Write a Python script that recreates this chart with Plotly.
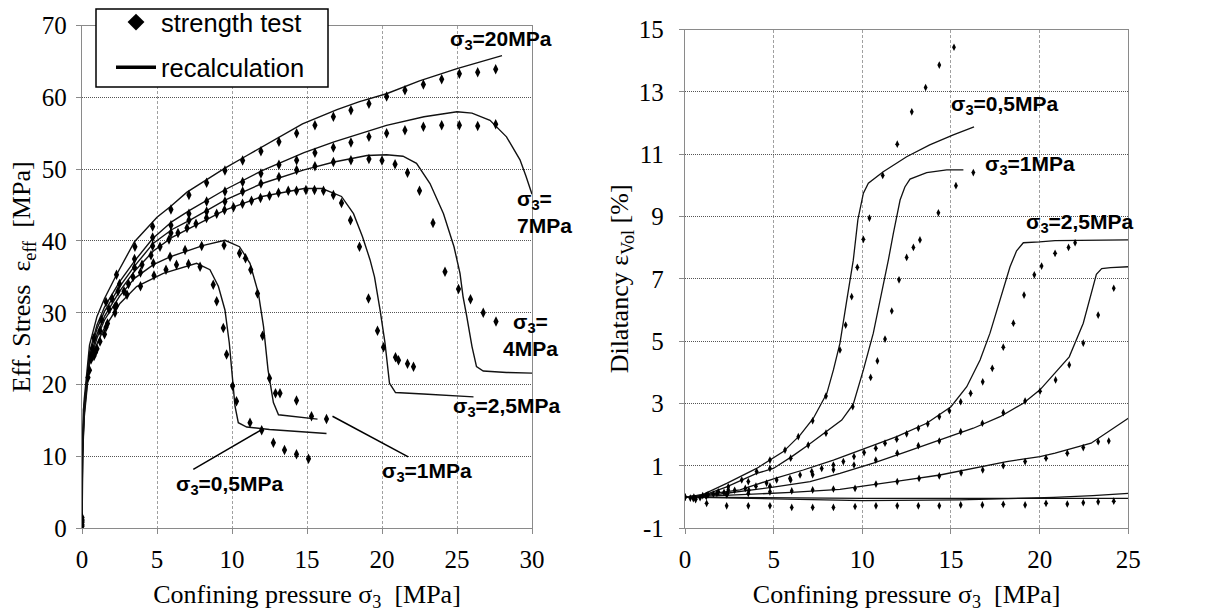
import plotly.graph_objects as go

# ================= LEFT PANEL : effective stress =================
# strength test (markers)
s20_x = [0, 0.8, 1.6, 2.3, 3.53, 4.71, 5.93, 7.13, 8.31, 9.53, 10.71, 11.93, 13.13, 14.31, 15.53, 16.76, 17.93, 19.13, 20.31, 21.53, 22.76, 23.98, 25.16, 26.38, 27.58]
s20_y = [0.3, 26.5, 31.5, 35.3, 39.2, 42.0, 44.4, 46.4, 48.1, 49.8, 51.2, 52.5, 53.8, 55.0, 56.1, 57.3, 58.2, 59.1, 60.1, 61.0, 61.8, 62.5, 63.3, 63.5, 63.9]
s7_x = [0, 0.7, 1.3, 2.0, 2.5, 3.5, 4.71, 5.93, 7.13, 8.31, 9.53, 10.71, 11.93, 13.13, 14.31, 15.53, 16.76, 17.93, 19.13, 20.31, 21.53, 22.76, 23.98, 25.16, 26.38, 27.58]
s7_y = [1.2, 25, 29, 32, 34, 37.5, 40.5, 42.2, 43.8, 45.5, 46.9, 48.2, 49.4, 50.6, 51.25, 52.3, 53.0, 53.7, 54.5, 55.0, 55.4, 55.9, 56.1, 56.1, 56.0, 56.25]
s4_x = [0, 0.6, 1.2, 1.8, 2.4, 3.5, 4.71, 5.93, 7.13, 8.31, 9.53, 10.71, 11.93, 13.13, 14.31, 15.53, 16.76, 17.93, 19.13, 20.0, 20.87, 21.7, 22.5, 23.4, 24.2, 25.1, 25.9, 26.75, 27.6]
s4_y = [1.5, 24, 27.5, 30.5, 33, 36.3, 39.3, 41.1, 42.9, 44.1, 45.5, 46.9, 48.0, 48.9, 49.9, 50.4, 51.0, 51.25, 51.4, 51.2, 50.7, 49.5, 47.0, 42.5, 35.7, 33.3, 31.9, 30.0, 28.8]
s25_x = [0, 0.4, 0.8, 1.2, 1.7, 2.2, 2.8, 3.4, 4.0, 4.6, 5.2, 5.8, 6.4, 7.0, 7.6, 8.3, 8.98, 9.5, 10.1, 10.7, 11.3, 11.9, 12.5, 13.1, 13.75, 14.3, 14.93, 15.5, 16.1, 16.76, 17.3, 17.9, 18.5, 19.1, 19.7, 20.1, 20.9, 21.1, 21.7, 22.1]
s25_y = [0.8, 21, 24, 26, 28.5, 30.8, 33, 35, 36.7, 38, 39.2, 40.2, 41.1, 41.8, 42.4, 43.2, 43.8, 44.3, 44.7, 45.2, 45.6, 46.0, 46.3, 46.7, 47.0, 47.0, 47.1, 47.1, 47.0, 46.4, 45.3, 42.9, 39.2, 32.0, 27.5, 25.2, 23.8, 23.4, 22.9, 22.5]
s1_x = [0, 0.6, 1.0, 1.6, 2.3, 3.1, 3.9, 4.76, 5.87, 6.87, 7.98, 9.47, 10.5, 10.9, 11.25, 11.7, 12.04, 12.5, 12.9, 13.2, 14.3, 15.3, 16.3]
s1_y = [1.0, 23.5, 25, 28, 31, 34, 35.6, 36.9, 37.8, 38.75, 39.3, 39.4, 38.3, 37.6, 36.0, 32.7, 26.8, 20.9, 18.8, 18.8, 17.8, 15.6, 15.2]
s05_x = [0, 0.5, 0.9, 1.5, 2.2, 3.0, 3.9, 4.8, 5.6, 6.3, 7.1, 7.87, 8.75, 8.98, 9.42, 9.64, 10.04, 10.3, 11.2, 11.98, 12.76, 13.5, 14.3, 15.1]
s05_y = [0.5, 22, 24.5, 27, 30, 32.5, 33.7, 35.2, 36.0, 36.7, 36.8, 36.4, 33.9, 31.6, 27.9, 24.2, 19.8, 17.7, 14.7, 13.65, 11.9, 10.9, 10.3, 9.7]

# recalculation (lines)
c20_x = [0, 0.03, 0.15, 0.5, 1.0, 1.5, 2.3, 3.5, 5.0, 5.9, 7.0, 8.3, 9.5, 11.0, 12.5, 14.7, 17.0, 18.5, 20.3, 22.5, 25.0, 28.0]
c20_y = [0, 12, 18, 25.5, 29.5, 32, 35.3, 39.9, 43.3, 44.8, 46.8, 48.5, 50.1, 51.9, 53.7, 56.3, 58.3, 59.4, 60.5, 62.3, 64.0, 65.8]
c7_x = [0, 0.03, 0.15, 0.5, 1.0, 1.5, 2.5, 3.5, 4.7, 6.0, 7.2, 9.5, 12.0, 14.8, 16.8, 20.3, 22.8, 25.0, 26.0, 27.2, 28.3, 29.2, 29.6, 30.0]
c7_y = [0, 11, 17, 24.5, 28.3, 30.8, 34.3, 37.2, 40.3, 42.7, 44.3, 47.1, 49.8, 52.3, 53.8, 56.1, 57.3, 58.0, 57.8, 56.8, 54.5, 51.3, 49.0, 46.5]
c4_x = [0, 0.03, 0.15, 0.5, 1.0, 1.5, 2.5, 3.5, 4.76, 6.0, 7.2, 9.53, 12.0, 14.8, 16.8, 19.0, 20.3, 21.4, 22.3, 23.2, 24.1, 24.8, 25.2, 25.4, 25.65, 26.0, 26.3, 26.75, 28.3, 30.0]
c4_y = [0, 10.5, 16.5, 24, 27.8, 30.2, 33.6, 36.5, 39.7, 41.6, 42.9, 45.7, 48.0, 49.9, 51.0, 51.9, 52.0, 51.8, 50.8, 48.0, 43.8, 39.2, 35.5, 32.3, 29.5, 25.3, 22.5, 21.9, 21.7, 21.6]
c25_x = [0, 0.03, 0.15, 0.5, 1.0, 1.5, 2.5, 3.5, 4.76, 6.0, 7.2, 9.53, 12.0, 14.8, 16.0, 17.3, 18.1, 18.7, 19.2, 19.5, 19.87, 20.2, 20.5, 20.9, 22.76, 26.1]
c25_y = [0, 10, 16, 23.5, 27, 29.5, 33, 35.8, 38.6, 40.5, 41.8, 44.3, 46.2, 47.3, 47.3, 46.2, 43.8, 40.6, 37.4, 35.0, 30.4, 25.8, 20.2, 18.9, 18.7, 18.3]
c1_x = [0, 0.03, 0.15, 0.5, 1.0, 1.5, 2.5, 3.5, 4.76, 5.87, 8.1, 9.53, 10.5, 11.2, 11.76, 12.1, 12.4, 12.76, 13.1, 14.76, 15.7]
c1_y = [0, 9.5, 15.5, 23, 26.5, 29, 32.3, 34.8, 36.7, 37.8, 39.4, 40.1, 39.2, 36.9, 32.7, 28.1, 22.1, 17.5, 15.8, 15.4, 15.2]
c05_x = [0, 0.03, 0.09, 0.53, 1.42, 2.53, 3.64, 5.42, 7.64, 8.53, 9.09, 9.53, 9.82, 10.04, 10.2, 10.42, 10.98, 12.5, 15.2, 16.3]
c05_y = [0, 9, 16.5, 23.5, 27.6, 31.3, 33.65, 35.5, 36.9, 36.0, 33.7, 30.4, 25.8, 20.7, 17.0, 14.7, 14.1, 13.75, 13.4, 13.2]

# ================= RIGHT PANEL : dilatancy =================
d05_x = [0, 0.47, 0.85, 1.3, 1.88, 2.44, 3.2, 4.04, 4.79, 5.64, 6.39, 7.2, 7.95, 8.74, 9.06, 9.4, 9.72, 10.06, 10.4, 11.15, 11.97, 12.79, 13.57, 14.34, 15.17]
d05_y = [0, -0.05, -0.02, 0.08, 0.17, 0.33, 0.55, 0.82, 1.19, 1.51, 1.94, 2.45, 3.24, 4.72, 5.52, 6.43, 7.37, 8.27, 8.95, 10.32, 11.32, 12.36, 13.14, 13.86, 14.43]
d1_x = [0, 0.6, 1.2, 1.8, 2.44, 3.57, 4.79, 5.96, 6.95, 7.95, 9.46, 10.47, 10.85, 11.28, 11.66, 12.07, 12.5, 12.88, 13.25, 14.29, 15.28, 16.26]
d1_y = [0, -0.05, 0.05, 0.12, 0.23, 0.5, 0.92, 1.25, 1.67, 2.05, 2.9, 3.84, 4.37, 5.07, 5.97, 6.97, 7.69, 8.01, 8.25, 9.12, 9.99, 10.41]
d25_x = [0, 0.5, 1.0, 1.6, 2.2, 2.8, 3.4, 4.0, 4.6, 5.17, 5.92, 6.49, 7.15, 7.71, 8.37, 8.93, 9.53, 10.1, 10.76, 11.28, 11.94, 12.5, 13.16, 13.69, 14.34, 14.91, 15.55, 16.11, 16.79, 17.33, 17.95, 18.52, 19.12, 19.7, 20.11, 20.87, 21.63, 22.0]
d25_y = [0, 0.0, 0.05, 0.1, 0.15, 0.22, 0.28, 0.35, 0.45, 0.55, 0.6, 0.71, 0.82, 0.92, 1.03, 1.14, 1.3, 1.43, 1.57, 1.73, 1.86, 2.03, 2.21, 2.35, 2.58, 2.77, 3.06, 3.33, 3.7, 4.13, 4.81, 5.58, 6.48, 7.13, 7.41, 7.82, 8.01, 8.16]
d4_x = [0, 1.2, 2.4, 3.6, 4.79, 5.96, 7.2, 8.37, 9.53, 10.76, 11.97, 13.16, 14.34, 15.55, 16.77, 17.95, 19.18, 20.02, 20.9, 21.67, 22.46, 23.3, 24.18]
d4_y = [0, 0.05, 0.12, 0.22, 0.35, 0.55, 0.72, 0.88, 1.03, 1.19, 1.41, 1.65, 1.8, 2.1, 2.37, 2.71, 3.08, 3.4, 3.76, 4.24, 4.94, 5.84, 6.7]
d7_x = [1.2, 2.35, 3.57, 4.79, 6.02, 7.2, 8.37, 9.59, 10.77, 11.97, 13.2, 14.34, 15.57, 16.79, 17.95, 19.18, 20.36, 21.56, 22.46, 23.3, 23.9]
d7_y = [0.02, 0.08, 0.12, 0.17, 0.2, 0.23, 0.26, 0.28, 0.42, 0.5, 0.6, 0.68, 0.78, 0.87, 1.01, 1.14, 1.25, 1.41, 1.59, 1.78, 1.8]
d20_x = [0.3, 0.6, 1.22, 2.35, 3.57, 4.79, 6.02, 7.2, 8.37, 9.59, 10.77, 11.97, 13.16, 14.34, 15.55, 16.77, 17.95, 19.18, 20.36, 21.56, 22.46, 23.3, 24.18]
d20_y = [-0.03, -0.08, -0.2, -0.28, -0.28, -0.28, -0.33, -0.33, -0.33, -0.3, -0.28, -0.28, -0.28, -0.28, -0.25, -0.25, -0.23, -0.25, -0.2, -0.22, -0.18, -0.15, -0.13]

e05_x = [0, 1.0, 2.35, 4.04, 5.55, 6.49, 7.24, 8.0, 8.37, 8.74, 9.12, 9.49, 9.75, 10.06, 10.34, 11.18, 12.5, 13.8, 15.13, 16.3]
e05_y = [0, 0.08, 0.44, 0.92, 1.46, 1.99, 2.53, 3.33, 4.08, 4.94, 6.3, 7.6, 8.9, 9.75, 10.07, 10.44, 10.92, 11.3, 11.62, 11.88]
e1_x = [0, 1.0, 2.35, 4.04, 4.98, 6.02, 6.95, 8.0, 8.84, 9.49, 10.06, 10.62, 11.09, 11.47, 11.75, 12.13, 12.4, 12.69, 13.63, 14.76, 15.7]
e1_y = [0, 0.05, 0.33, 0.76, 0.92, 1.3, 1.67, 2.1, 2.47, 2.98, 4.08, 5.26, 6.54, 7.61, 8.46, 9.53, 9.95, 10.2, 10.41, 10.5, 10.5]
e25_x = [0, 1.5, 3.1, 5.08, 6.67, 8.37, 9.87, 10.62, 11.94, 13.63, 15.0, 15.89, 16.64, 17.2, 17.77, 18.33, 18.7, 19.08, 20.0, 20.87, 25.0]
e25_y = [0, 0.1, 0.23, 0.6, 0.87, 1.19, 1.51, 1.67, 1.94, 2.37, 2.9, 3.54, 4.4, 5.26, 6.32, 7.39, 7.9, 8.16, 8.19, 8.23, 8.25]
e4_x = [0, 2.0, 5.08, 7.05, 8.74, 10.62, 12.5, 14.38, 16.26, 17.77, 19.08, 20.02, 20.77, 21.67, 22.46, 22.9, 23.2, 23.5, 24.0, 25.0]
e4_y = [0, 0.1, 0.33, 0.5, 0.76, 1.09, 1.46, 1.83, 2.21, 2.58, 3.01, 3.44, 3.92, 4.5, 5.58, 6.5, 7.15, 7.33, 7.36, 7.39]
e7_x = [0, 3.0, 6.0, 8.74, 10.62, 12.5, 14.38, 16.26, 18.14, 20.02, 20.87, 22.9, 24.02, 25.0]
e7_y = [0, 0.07, 0.15, 0.25, 0.39, 0.55, 0.71, 0.92, 1.14, 1.3, 1.41, 1.73, 2.15, 2.53]
e20a_x = [0, 5.0, 10.0, 15.0, 20.0, 25.0]
e20a_y = [0, -0.03, -0.04, -0.04, -0.04, -0.04]
e20b_x = [0, 5.6, 10.0, 15.5, 18.0, 20.8, 23.0, 25.0]
e20b_y = [0, -0.06, -0.11, -0.09, -0.06, -0.01, 0.05, 0.12]

# tick labels of the dilatancy axis
dil_ticks = [-1, 1, 3, 5, 7, 9, 11, 13, 15]
dil_ticktext = ["-1", "1", "3", "5", "7", "9", "11", "13", "15"]

left_pts = [(s20_x, s20_y), (s7_x, s7_y), (s4_x, s4_y), (s25_x, s25_y), (s1_x, s1_y), (s05_x, s05_y)]
left_lines = [(c20_x, c20_y), (c7_x, c7_y), (c4_x, c4_y), (c25_x, c25_y), (c1_x, c1_y), (c05_x, c05_y)]
right_pts = [(d05_x, d05_y), (d1_x, d1_y), (d25_x, d25_y), (d4_x, d4_y), (d7_x, d7_y), (d20_x, d20_y)]
right_lines = [(e05_x, e05_y), (e1_x, e1_y), (e25_x, e25_y), (e4_x, e4_y), (e7_x, e7_y), (e20a_x, e20a_y), (e20b_x, e20b_y)]

LINE_C = "#111111"
fig = go.Figure()
for xs, ys in left_lines:
    fig.add_trace(go.Scatter(x=xs, y=ys, mode="lines", line=dict(color=LINE_C, width=1.4),
                             showlegend=False, xaxis="x", yaxis="y"))
for xs, ys in left_pts:
    fig.add_trace(go.Scatter(x=xs, y=ys, mode="markers",
                             marker=dict(symbol="diamond-tall", size=7.5, color="black"),
                             showlegend=False, xaxis="x", yaxis="y"))
for xs, ys in right_lines:
    fig.add_trace(go.Scatter(x=xs, y=ys, mode="lines", line=dict(color=LINE_C, width=1.3),
                             showlegend=False, xaxis="x2", yaxis="y2"))
for xs, ys in right_pts:
    fig.add_trace(go.Scatter(x=xs, y=ys, mode="markers",
                             marker=dict(symbol="diamond-tall", size=5.5, color="black"),
                             showlegend=False, xaxis="x2", yaxis="y2"))

# legend entries
fig.add_trace(go.Scatter(x=[None], y=[None], mode="markers", name="strength test",
                         marker=dict(symbol="diamond", size=13, color="black"),
                         legendgroup="a", xaxis="x", yaxis="y"))
fig.add_trace(go.Scatter(x=[None], y=[None], mode="lines", name="recalculation",
                         line=dict(color="black", width=3.5),
                         legendgroup="b", xaxis="x", yaxis="y"))

W, H = 1222, 612
serif = "Liberation Serif"
sans = "Liberation Sans"
HGRID = dict(showgrid=True, gridcolor="#555555", gridwidth=1, griddash="1px,1px")
VGRID = dict(showgrid=True, gridcolor="#a0a0a0", gridwidth=1, griddash="3px,2px")
axline = dict(showline=True, linecolor="#8a8a8a", linewidth=1.3, mirror=True, zeroline=False, automargin=False,
              ticks="outside", ticklen=5, tickcolor="#8a8a8a", tickfont=dict(family=serif, size=25, color="black"))

fig.update_layout(
    width=W, height=H, margin=dict(l=0, r=0, t=0, b=0, autoexpand=False),
    paper_bgcolor="white", plot_bgcolor="white",
    showlegend=True,
    legend=dict(x=111 / W, y=1 + 1 / H, xanchor="left", yanchor="top", bgcolor="rgba(0,0,0,0)",
                borderwidth=0, font=dict(family=sans, size=25.5, color="black"),
                traceorder="grouped", tracegroupgap=9, itemwidth=40),
    xaxis=dict(domain=[82 / W, 532 / W], range=[0, 30], dtick=5, anchor="y",
               title=dict(text="Confining pressure σ<sub>3</sub>\u00a0\u00a0[MPa]", font=dict(family=serif, size=26, color="black"), standoff=15),
               ticklabelstandoff=4, **VGRID, **axline),
    yaxis=dict(domain=[1 - 528.3 / H, 1 - 25.5 / H], range=[0, 70], dtick=10, anchor="x",
               title=dict(text="Eff. Stress\u00a0\u00a0ε<sub>eff</sub>\u00a0\u00a0[MPa]", font=dict(family=serif, size=26, color="black"), standoff=3),
               ticklabelstandoff=4, **HGRID, **axline),
    xaxis2=dict(domain=[685 / W, 1128.3 / W], range=[0, 25], dtick=5, anchor="y2",
                title=dict(text="Confining pressure σ<sub>3</sub>\u00a0\u00a0[MPa]", font=dict(family=serif, size=26, color="black"), standoff=15),
                ticklabelstandoff=4, **VGRID, **axline),
    yaxis2=dict(domain=[1 - 528.3 / H, 1 - 29.5 / H], range=[-1, 15], tickvals=dil_ticks, ticktext=dil_ticktext, anchor="x2",
                title=dict(text="Dilatancy ε<sub>Vol</sub> [%]", font=dict(family=serif, size=26, color="black"), standoff=2),
                ticklabelstandoff=10, **HGRID, **axline),
)

# legend frame
fig.add_shape(type="rect", xref="paper", yref="paper", x0=96 / W, x1=328 / W, y0=1 - 87 / H, y1=1 - 9 / H,
              line=dict(color="black", width=1.5), fillcolor="white", layer="above")

lab_font = dict(family=sans, size=21, color="black")
def lab(text, x, y, xr, yr, xanchor="center", align="center"):
    fig.add_annotation(text="<b>" + text + "</b>", x=x, y=y, xref=xr, yref=yr, showarrow=False,
                       font=lab_font, xanchor=xanchor, yanchor="middle", align=align)

S = "σ<sub>3</sub>="
# left labels
lab(S + "20MPa", 27.9, 68.0, "x", "y")
lab(S + "<br>7MPa", 28.87, 44.0, "x", "y", xanchor="left", align="left")
lab(S + "<br>4MPa", 29.87, 26.9, "x", "y")
lab(S + "2,5MPa", 28.3, 16.9, "x", "y")
lab(S + "1MPa", 23.0, 7.85, "x", "y")
lab(S + "0,5MPa", 9.87, 6.0, "x", "y")
# right labels
lab(S + "0,5MPa", 18.05, 12.59, "x2", "y2")
lab(S + "1MPa", 19.46, 10.66, "x2", "y2")
lab(S + "2,5MPa", 22.28, 8.79, "x2", "y2")
lab(S + "<br>4MPa", 25.5, 7.17, "x2", "y2", xanchor="left", align="left")
lab(S + "<br>7MPa", 25.45, 2.59, "x2", "y2", xanchor="left", align="left")
lab(S + "<br>20MPa", 25.45, 0.10, "x2", "y2", xanchor="left", align="left")

# leader lines
fig.add_shape(type="line", x0=7.42, y0=8.2, x1=11.98, y1=13.75, xref="x", yref="y", line=dict(color="black", width=1.5))
fig.add_shape(type="line", x0=16.7, y0=15.6, x1=21.75, y1=9.95, xref="x", yref="y", line=dict(color="black", width=1.5))

fig.write_html("out.html", config={"displayModeBar": False},
               post_script="document.body.style.margin='0px';document.body.style.overflow='hidden';")
